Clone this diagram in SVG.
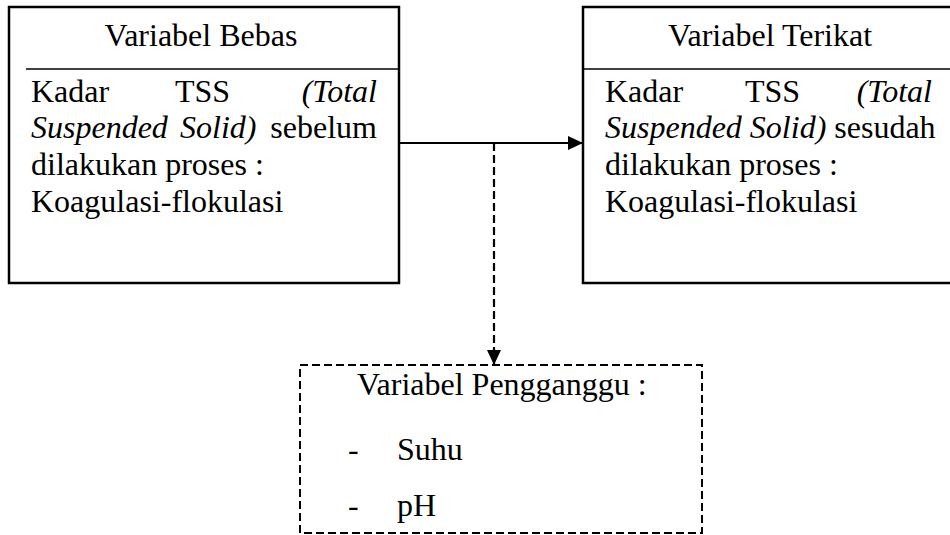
<svg xmlns="http://www.w3.org/2000/svg" width="950" height="535" viewBox="0 0 950 535">
<style>
text{font-family:"Liberation Serif","Times New Roman",serif;font-size:32px;fill:#000}
.it{font-style:italic}
.box{fill:#fff;stroke:#000;stroke-width:2.5}
.div{stroke:#000;stroke-width:1.5}
.dbox{fill:#fff;stroke:#000;stroke-width:2;stroke-dasharray:8 4}
.conn{fill:none;stroke:#000;stroke-width:2.2}
.dash{stroke-dasharray:8 4}
</style>
<defs>
<marker id="ah" viewBox="0 0 15 14" refX="15" refY="7" markerWidth="15" markerHeight="14" markerUnits="userSpaceOnUse" orient="auto">
<path d="M0,0 L15,7 L0,14 Z" fill="#000"/>
</marker>
</defs>
<rect width="950" height="535" fill="#fff"/>
<g id="connectors">
<line class="conn" x1="399" y1="143" x2="583" y2="143" marker-end="url(#ah)"/>
<line class="conn dash" x1="494" y1="143" x2="494" y2="365" marker-end="url(#ah)"/>
</g>
<g id="bebas">
<rect class="box" x="9" y="7" width="390" height="276"/>
<line class="div" x1="26" y1="69" x2="399" y2="69"/>
<text x="201" y="46" text-anchor="middle">Variabel Bebas</text>
<text x="31" y="102">Kadar</text>
<text x="175" y="102">TSS</text>
<text x="377" y="102" text-anchor="end" class="it">(Total</text>
<text x="31" y="138" class="it">Suspended</text>
<text x="180" y="138" class="it">Solid)</text>
<text x="377" y="138" text-anchor="end">sebelum</text>
<text x="31" y="175">dilakukan proses :</text>
<text x="31" y="212">Koagulasi-flokulasi</text>
</g>
<g id="terikat">
<rect class="box" x="583" y="7" width="380" height="276"/>
<line class="div" x1="583" y1="69" x2="950" y2="69"/>
<text x="770" y="46" text-anchor="middle">Variabel Terikat</text>
<text x="605" y="102">Kadar</text>
<text x="745" y="102">TSS</text>
<text x="932" y="102" text-anchor="end" class="it">(Total</text>
<text x="605" y="138"><tspan class="it">Suspended Solid)</tspan> sesudah</text>
<text x="605" y="175">dilakukan proses :</text>
<text x="605" y="212">Koagulasi-flokulasi</text>
</g>
<g id="pengganggu">
<rect class="dbox" x="300" y="365" width="402" height="168"/>
<text x="357" y="395">Variabel Pengganggu :</text>
<text x="348" y="460">-</text>
<text x="397" y="460">Suhu</text>
<text x="348" y="516">-</text>
<text x="397" y="516">pH</text>
</g>
</svg>
